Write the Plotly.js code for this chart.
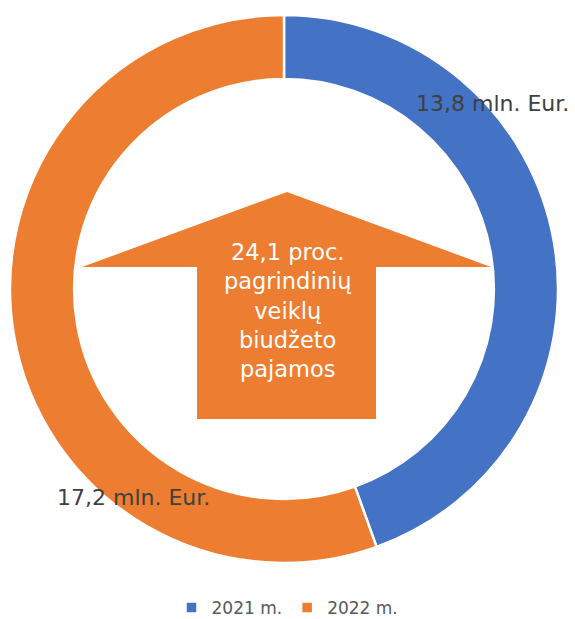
<!DOCTYPE html>
<html>
<head>
<meta charset="utf-8">
<script src="https://cdn.plot.ly/plotly-3.0.1.min.js"></script>
<style>html,body{margin:0;padding:0;background:#fff;}#chart{width:575px;height:619px;}</style>
</head>
<body>
<div id="chart"></div>
<script>
// Data
const categories = ["2021 m.", "2022 m."];
const values = [13.8, 17.2];
const colors = ["#4472C4", "#ED7D31"];
const valueUnit = " mln. Eur.";
const centerLines = ["24,1 proc.", "pagrindinių", "veiklų", "biudžeto", "pajamos"];

const W = 575, H = 619;
const px = x => x / W;
const py = y => 1 - y / H;
const fmt = v => v.toFixed(1).replace('.', ',') + valueUnit;

const labelPos = [[492, 103], [133, 497]];

const trace = {
  type: 'pie',
  labels: categories,
  values: values,
  sort: false,
  direction: 'clockwise',
  rotation: 0,
  hole: 0.766,
  textinfo: 'none',
  hoverinfo: 'label+value',
  marker: {colors: colors, line: {color: '#ffffff', width: 2.5}},
  domain: {x: [px(10), px(558)], y: [py(563), py(15)]},
  showlegend: true
};

const arrowPath = 'M' + px(287) + ',' + py(192) +
  ' L' + px(491) + ',' + py(267) +
  ' L' + px(376) + ',' + py(267) +
  ' L' + px(376) + ',' + py(419) +
  ' L' + px(197) + ',' + py(419) +
  ' L' + px(197) + ',' + py(267) +
  ' L' + px(82) + ',' + py(267) + ' Z';

const annotations = values.map((v, i) => ({
  text: fmt(v), x: px(labelPos[i][0]), y: py(labelPos[i][1]),
  xref: 'paper', yref: 'paper', showarrow: false,
  xanchor: 'center', yanchor: 'middle',
  font: {family: 'DejaVu Sans', size: 22, color: '#404040'}
}));
annotations.push({
  text: centerLines.join('<br>'), x: px(287), y: py(310),
  xref: 'paper', yref: 'paper', showarrow: false,
  xanchor: 'center', yanchor: 'middle',
  font: {family: 'DejaVu Sans', size: 22.5, color: '#ffffff'}
});

const layout = {
  width: W, height: H,
  margin: {l: 0, r: 0, t: 0, b: 0, autoexpand: false},
  paper_bgcolor: '#ffffff',
  showlegend: true,
  legend: {
    orientation: 'h', x: 0.5, xanchor: 'center', y: -7 / H, yanchor: 'bottom',
    font: {family: 'DejaVu Sans', size: 17, color: '#595959'},
    itemclick: false, itemdoubleclick: false
  },
  shapes: [{
    type: 'path', xref: 'paper', yref: 'paper', path: arrowPath,
    fillcolor: '#ED7D31', line: {width: 0}, layer: 'above'
  }],
  annotations: annotations
};

Plotly.newPlot('chart', [trace], layout, {displayModeBar: false, staticPlot: true});
</script>
</body>
</html>
